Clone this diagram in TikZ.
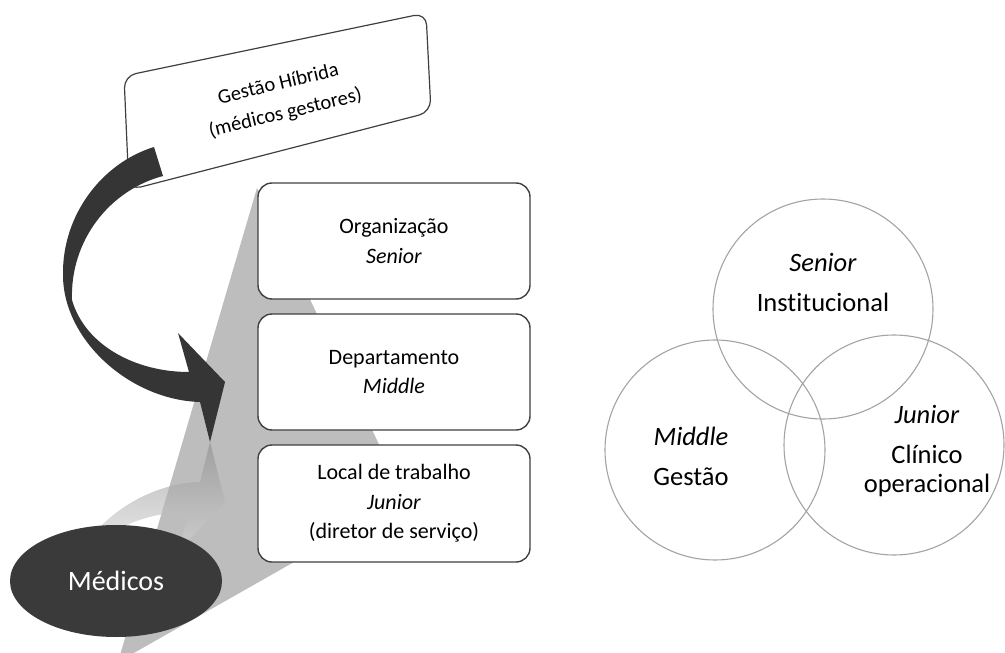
\documentclass[tikz,border=0pt]{standalone}
\usepackage{fontspec}
\setmainfont{Carlito}[Ligatures={TeX,NoCommon}]
\usetikzlibrary{shapes.geometric}
\definecolor{arrowgray}{HTML}{353535}
\definecolor{conegray}{HTML}{BDBDBD}
\definecolor{rimgray}{HTML}{404040}
\definecolor{ringgray}{HTML}{A3A3A3}
\definecolor{medgray}{HTML}{3A3A3A}
\tikzset{
  levelbox/.style={draw=rimgray,line width=1.4pt,fill=white,rounded corners=14pt,
    minimum width=272pt,minimum height=116pt,align=center,inner sep=0pt,
    font=\fontsize{22}{29.5}\selectfont},
  ring/.style={circle,draw=ringgray,line width=1.1pt,minimum size=220pt,inner sep=0pt},
  ringtext/.style={align=center,font=\fontsize{26.5}{29}\selectfont}
}
\begin{document}
\begin{tikzpicture}[x=1pt,y=-1pt]
\useasboundingbox (0,0) rectangle (1005,653);
%cone
\fill[conegray](257,188)--(405,499)--(118,662)--cycle;
%reflection of the arrow
\shade[top color=black!45,bottom color=white,opacity=0.6](200,482)--(210,442)--(225,502)--(178,551)--(189,512)
  .. controls (135,512) and (85,539) .. (72,584)--(63,609)
  .. controls (63,544) and (130,484) .. (200,482)--cycle;
%hybrid management
\draw[rimgray,line width=1.2pt,fill=white,rounded corners=12pt](124,76)--(426,13)--(431,112)--(129,190)--cycle;
\node[rotate=13.5,align=center,font=\fontsize{20.5}{30}\selectfont](hybrid) at (282,99){Gestão Híbrida\\(médicos gestores)};
%curved arrow
\fill[arrowgray](154,147) .. controls (102,163) and (62,215) .. (63,275)
  .. controls (63,340) and (130,400) .. (200,402)--(210,442)--(225,382)--(178,333)--(189,372)
  .. controls (135,372) and (85,345) .. (72,300)
  .. controls (70,240) and (110,190) .. (163,176)--cycle;
%levels
\node[levelbox](org) at (394,241){Organização\\\textit{Senior}};
\node[levelbox](dep) at (394,372){Departamento\\\textit{Middle}};
\node[levelbox,minimum height=117pt](loc) at (394,503.5){Local de trabalho\\\textit{Junior}\\(diretor de serviço)};
%doctors
\node[ellipse,fill=medgray,minimum width=212pt,minimum height=112pt,text=white,font=\fontsize{28}{30}\selectfont](medicos) at (116,581){Médicos};
%========
\node[ring](senior) at (823,309){};
\node[ring](middle) at (715,450){};
\node[ring](junior) at (894,445){};
\node[ringtext](seniortxt) at (823,282){\textit{Senior}\\[11pt]Institucional};
\node[ringtext](middletxt) at (691,456){\textit{Middle}\\[11pt]Gestão};
\node[ringtext](juniortxt) at (927,451){\textit{Junior}\\[11pt]Clínico\\operacional};
\end{tikzpicture}
\end{document}
